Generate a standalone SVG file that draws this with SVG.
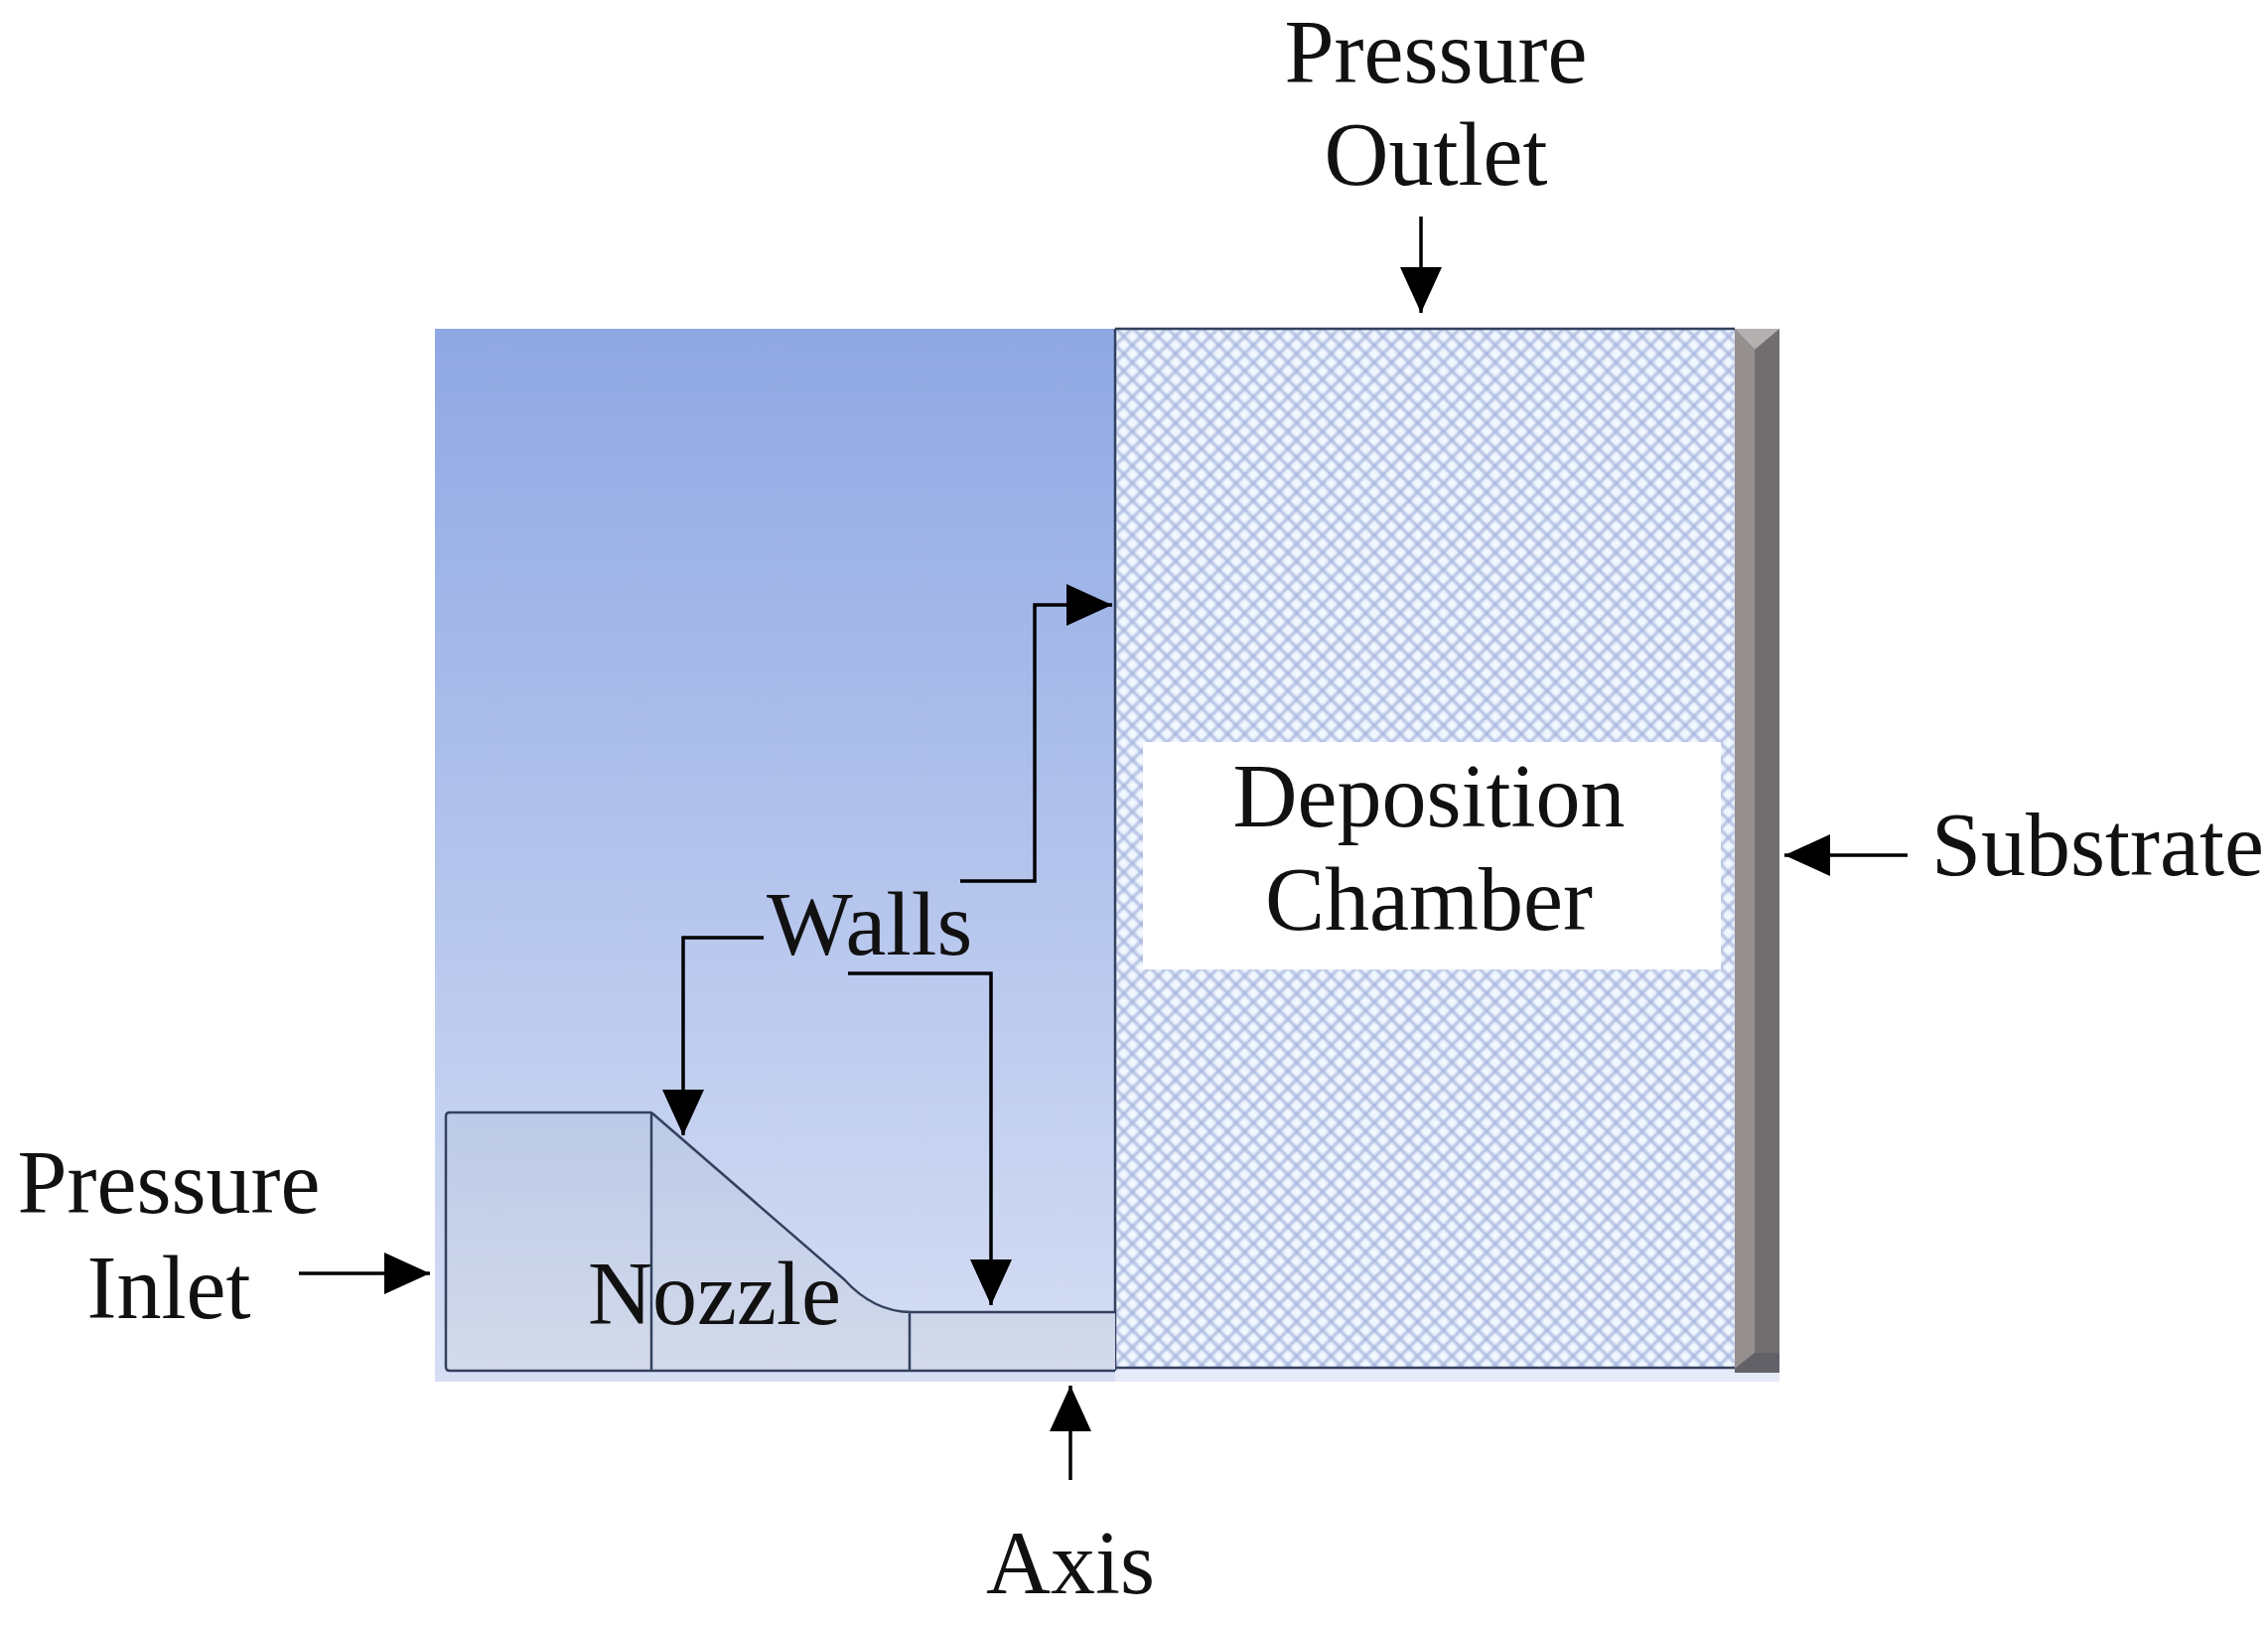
<svg xmlns="http://www.w3.org/2000/svg" width="2284" height="1636" viewBox="0 0 2284 1636">
<style>
text{font-family:"Liberation Serif","Times New Roman",serif;font-size:90px;fill:#111}
.m{text-anchor:middle}
.edge{fill:none;stroke:#33415f;stroke-width:2.5;stroke-linejoin:round}
.conn{fill:none;stroke:#000;stroke-width:3.5;marker-end:url(#head)}
</style>
<defs>
<linearGradient id="bg" x1="0" y1="0" x2="0" y2="1">
<stop offset="0" stop-color="#8fa8e4"/>
<stop offset="1" stop-color="#d6def4"/>
</linearGradient>
<linearGradient id="part" x1="0" y1="0" x2="0" y2="1">
<stop offset="0" stop-color="#bccae8"/>
<stop offset="1" stop-color="#d3daea"/>
</linearGradient>
<pattern id="hatch" width="17.4" height="17.4" patternUnits="userSpaceOnUse" x="1123" y="330">
<rect width="17.4" height="17.4" fill="#f1f8ff"/>
<path d="M0 0L17.4 17.4M17.4 0L0 17.4" stroke="#a6b4de" stroke-width="2.8"/>
</pattern>
<filter id="soft" x="0" y="0" width="1" height="1"><feGaussianBlur stdDeviation="0.9"/></filter>
<marker id="head" markerUnits="userSpaceOnUse" markerWidth="46" markerHeight="42" refX="46" refY="21" orient="auto">
<path d="M0 0L46 21L0 42Z" fill="#000"/>
</marker>
</defs>
<g id="background">
<rect x="438" y="331" width="1354" height="1060" fill="#e6e9f7"/>
<rect x="438" y="331" width="685" height="1060" fill="url(#bg)"/>
</g>
<g id="chamber">
<rect x="1123" y="331" width="624" height="1047" fill="url(#hatch)" filter="url(#soft)"/>
<path class="edge" d="M1123 331H1747M1123 331V1380M1123 1377H1747"/>
<rect x="1151" y="747" width="582" height="229" fill="#fff"/>
<text class="m" x="1439" y="832">Deposition</text>
<text class="m" x="1439" y="936">Chamber</text>
</g>
<g id="substrate">
<rect x="1747" y="331" width="45" height="1051" fill="#716e6f"/>
<path d="M1747 331H1792L1767 352Z" fill="#b4b0b0"/>
<path d="M1747 331L1767 352V1362L1747 1378Z" fill="#968f8f"/>
<path d="M1747 1378L1767 1362H1792V1382H1747Z" fill="#626168"/>
</g>
<g id="nozzle">
<path d="M449 1380V1124Q449 1120 453 1120H656L850 1288Q880 1321 918 1321H1123V1380Z" fill="url(#part)"/>
<path class="edge" d="M656 1120H453Q449 1120 449 1124V1376Q449 1380 453 1380H1123M656 1120V1380M656 1120L850 1288Q880 1321 918 1321H1123M916 1321V1380"/>
<text x="592" y="1333">Nozzle</text>
</g>
<g id="connectors">
<path class="conn" d="M1431 218V315"/>
<path class="conn" d="M1921 861H1797"/>
<path class="conn" d="M301 1282H433"/>
<path class="conn" d="M1078 1490V1395"/>
<path class="conn" d="M967 887H1042V609H1120"/>
<path class="conn" d="M769 944H688V1143"/>
<path class="conn" d="M854 980H998V1314"/>
</g>
<g id="labels">
<text class="m" x="1446" y="83">Pressure</text>
<text class="m" x="1446" y="186">Outlet</text>
<text x="1945" y="881">Substrate</text>
<text x="772" y="961" style="font-size:92px">Walls</text>
<text class="m" x="170" y="1221">Pressure</text>
<text class="m" x="170" y="1327">Inlet</text>
<text class="m" x="1078" y="1604">Axis</text>
</g>
</svg>
